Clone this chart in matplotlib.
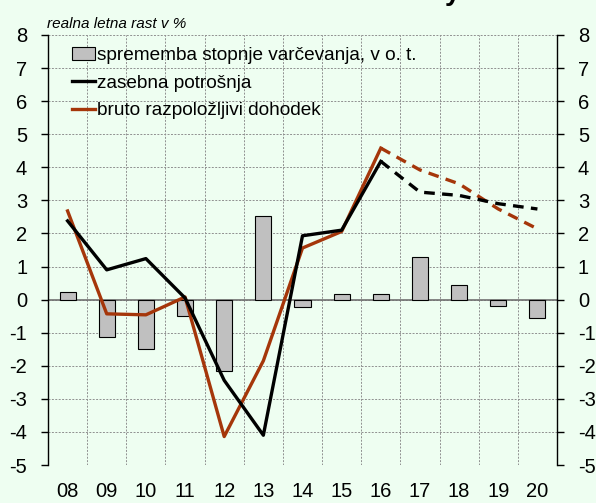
import matplotlib
matplotlib.use("Agg")
import matplotlib.pyplot as plt
import numpy as np
from matplotlib.patches import Patch
from matplotlib.lines import Line2D

plt.rcParams['font.family'] = ['Liberation Sans', 'DejaVu Sans']

years = ['08', '09', '10', '11', '12', '13', '14', '15', '16', '17', '18', '19', '20']
saving_change = [0.22, -1.13, -1.5, -0.5, -2.16, 2.52, -0.23, 0.16, 0.16, 1.29, 0.45, -0.18, -0.55]
consumption = [2.38, 0.9, 1.24, 0.05, -2.44, -4.1, 1.93, 2.1, 4.18, 3.25, 3.15, 2.9, 2.74]
income = [2.68, -0.43, -0.46, 0.08, -4.14, -1.85, 1.56, 2.06, 4.58, 3.92, 3.5, 2.74, 2.14]
forecast_start = 8  # index of '16'
yticks = list(range(-5, 9))

bg = '#EEFEF1'
red = '#A5360A'

fig = plt.figure(figsize=(5.96, 5.03), dpi=100, facecolor=bg)
ax = fig.add_axes([48/596, 1-465/503, (557-48)/596, (465-35)/503], facecolor=bg)

x = np.arange(len(years))
ax.bar(x, saving_change, width=0.41, color='#C0C0C0', edgecolor='black', linewidth=0.8, zorder=3)
ax.axhline(0, color='#707070', linewidth=1.2, zorder=2)

lw = 2.4
ax.plot(x[:forecast_start+1], consumption[:forecast_start+1], color='black', lw=lw, zorder=5)
ax.plot(x[forecast_start:], consumption[forecast_start:], color='black', lw=lw, ls=(0, (3.2, 2.2)), zorder=5)
ax.plot(x[:forecast_start+1], income[:forecast_start+1], color=red, lw=lw, zorder=4)
ax.plot(x[forecast_start:], income[forecast_start:], color=red, lw=lw, ls=(0, (3.2, 2.2)), zorder=4)

ax.set_xlim(-0.5, len(years) - 0.5)
ax.set_ylim(-5, 8)
ax.set_yticks(yticks)
ax.set_yticklabels([str(v) for v in yticks])
ax.set_xticks(x)
ax.set_xticklabels(years)
ax.set_xticks(np.arange(-0.5, len(years), 1.0), minor=True)

ax.grid(which='minor', axis='x', color='#909090', ls=(0, (2, 1.5)), lw=0.7, zorder=0)
ax.grid(which='major', axis='y', color='#909090', ls=(0, (2, 1.5)), lw=0.7, zorder=0)

for s in ['top', 'bottom']:
    ax.spines[s].set_visible(False)
for s in ['left', 'right']:
    ax.spines[s].set_color('black')
    ax.spines[s].set_linewidth(1.0)

ax.tick_params(axis='y', which='major', left=True, right=True, labelleft=True, labelright=True,
               direction='out', length=5, width=1, labelsize=14.5, pad=10)
ax.tick_params(axis='x', which='both', bottom=False, top=False, labelsize=14.5, pad=9)

handles = [Patch(facecolor='#C0C0C0', edgecolor='black', linewidth=0.8),
           Line2D([], [], color='black', lw=2.4),
           Line2D([], [], color=red, lw=2.4)]
labels = ['sprememba stopnje varčevanja, v o. t.', 'zasebna potrošnja', 'bruto razpoložljivi dohodek']
leg = ax.legend(handles, labels, loc='upper left', bbox_to_anchor=(0.047, 0.973), frameon=False,
                fontsize=13.7, handlelength=1.2, handletextpad=0.12, labelspacing=0.55, borderaxespad=0.0,
                borderpad=0.0)

fig.text(47/596, 1-24/503, 'realna letna rast v %', fontsize=11, style='italic', va='center', ha='left')
fig.text(445/596, 1.0, 'y', fontsize=20, fontweight='bold', va='baseline', ha='left')

fig.savefig('out.png', dpi=100, facecolor=bg)
